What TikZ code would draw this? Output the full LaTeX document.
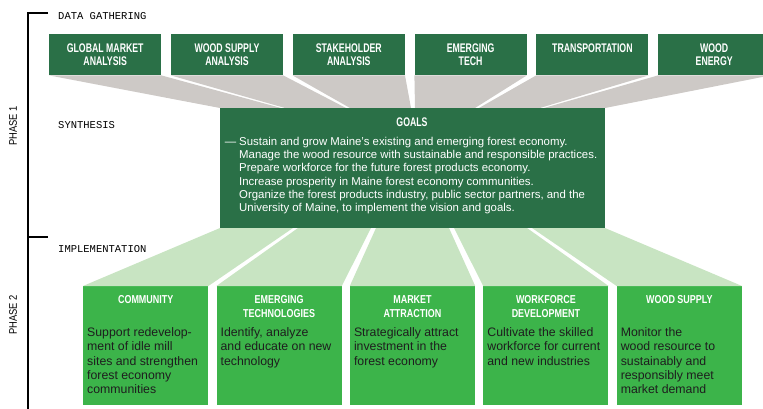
\documentclass[tikz,border=0pt]{standalone}
\usepackage{fontspec}
\setmainfont{Liberation Sans}
\newfontfamily\headfont[FakeStretch=0.7]{Liberation Sans}
\newfontfamily\botheadfont[FakeStretch=0.78]{Liberation Sans}
\newfontfamily\bodyfont{Liberation Sans}
\newfontfamily\phasefont[FakeStretch=0.85]{Liberation Sans}
\newfontfamily\labfont{Liberation Mono}
\usetikzlibrary{calc}
\definecolor{dkgreen}{RGB}{42,112,71}
\definecolor{ltgreen}{RGB}{60,180,74}
\definecolor{fangreen}{RGB}{200,228,194}
\definecolor{fangray}{RGB}{205,201,198}
\definecolor{bodyblack}{RGB}{30,30,30}
\begin{document}
\begin{tikzpicture}[x=1pt,y=-1pt,
  topbox/.style={fill=dkgreen, draw=none, minimum width=112pt, minimum height=41pt, anchor=north west, inner sep=0},
  botbox/.style={fill=ltgreen, draw=none, minimum width=125pt, minimum height=119pt, anchor=north west, inner sep=0},
  toptext/.style={font=\headfont\bfseries\fontsize{12.5}{13}\selectfont, text=white, align=center, anchor=north, inner sep=0},
  bottext/.style={font=\botheadfont\bfseries\fontsize{11.5}{14}\selectfont, text=white, align=center, anchor=north, inner sep=0},
  botbody/.style={font=\bodyfont\fontsize{12.3}{14.2}\selectfont, text=bodyblack, align=left, anchor=north west, inner sep=0},
  goalbody/.style={font=\bodyfont\fontsize{11.4}{13.2}\selectfont, text=white, align=left, anchor=north west, inner sep=0},
  lab/.style={font=\labfont\fontsize{10.5}{12}\selectfont, anchor=west, inner sep=0},
  phase/.style={font=\phasefont\fontsize{11}{12}\selectfont, rotate=90, inner sep=0},
  bracket/.style={line width=1.6pt}
]
\useasboundingbox (0,0) rectangle (763,409);
\clip (0,0) rectangle (763,409);

% bracket
\coordinate (brtop) at (28,13);
\coordinate (brtopend) at (48,13);
\coordinate (brmid) at (28,237);
\coordinate (brmidend) at (48,237);
\coordinate (brbot) at (28,409);
\draw[bracket] (brtopend) -- (brtop) -- (brbot);
\draw[bracket] (brmid) -- (brmidend);

% side labels
\node[lab] (lgather) at (58,16) {DATA GATHERING};
\node[lab] (lsynth) at (58,125.5) {SYNTHESIS};
\node[lab] (limpl) at (58,249.5) {IMPLEMENTATION};
\node[phase] (ph1) at (13,126) {PHASE 1};
\node[phase] (ph2) at (13,315) {PHASE 2};

% top boxes
\foreach \i/\t in {0/{GLOBAL MARKET\\ANALYSIS},1/{WOOD SUPPLY\\ANALYSIS},2/{STAKEHOLDER\\ANALYSIS},3/{EMERGING\\TECH},4/{TRANSPORTATION},5/{WOOD\\ENERGY}}{
  \pgfmathsetmacro{\xx}{49+121.8*\i}
  \node[topbox] (t\i) at (\xx,34) {};
  \node[toptext] (t\i txt) at ($(t\i.north)+(0,9.5)$) {\t};
}

% gray fans
\foreach \i/\gl/\gr in {0/220/281,1/285/346,2/350/411,3/415/475,4/479/540,5/544/605}{
  \fill[fangray] (t\i.south west) -- (t\i.south east) -- (\gr,108) -- (\gl,108) -- cycle;
}

% goals
\node[fill=dkgreen, minimum width=385pt, minimum height=120pt, anchor=north west, inner sep=0] (goals) at (220,108) {};
\node[toptext] (goalstitle) at (412,117.5) {GOALS};
\node[goalbody] (goalstext) at (239,137) {\llap{—\hspace{3pt}}Sustain and grow Maine’s existing and emerging forest economy.\\
Manage the wood resource with sustainable and responsible practices.\\
Prepare workforce for the future forest products economy.\\
Increase prosperity in Maine forest economy communities.\\
Organize the forest products industry, public sector partners, and the\\
University of Maine, to implement the vision and goals.};

% bottom boxes
\foreach \i/\t/\b in {0/{COMMUNITY}/{Support redevelop-\\ment of idle mill\\sites and strengthen\\forest economy\\communities},
  1/{EMERGING\\TECHNOLOGIES}/{Identify, analyze\\and educate on new\\technology},
  2/{MARKET\\ATTRACTION}/{Strategically attract\\investment in the\\forest economy},
  3/{WORKFORCE\\DEVELOPMENT}/{Cultivate the skilled\\workforce for current\\and new industries},
  4/{WOOD SUPPLY}/{Monitor the\\wood resource to\\sustainably and\\responsibly meet\\market demand}}{
  \pgfmathsetmacro{\xx}{83+133.4*\i}
  \node[botbox] (b\i) at (\xx,286) {};
  \node[bottext] (b\i txt) at ($(b\i.north)+(0,9)$) {\t};
  \node[botbody] (b\i body) at ($(b\i.north west)+(4,41.5)$) {\b};
}

% green fans
\foreach \i/\gl/\gr in {0/220/293,1/298/371,2/376/449,3/454/527,4/532/605}{
  \fill[fangreen] (\gl,228) -- (\gr,228) -- (b\i.north east) -- (b\i.north west) -- cycle;
}
\end{tikzpicture}
\end{document}
